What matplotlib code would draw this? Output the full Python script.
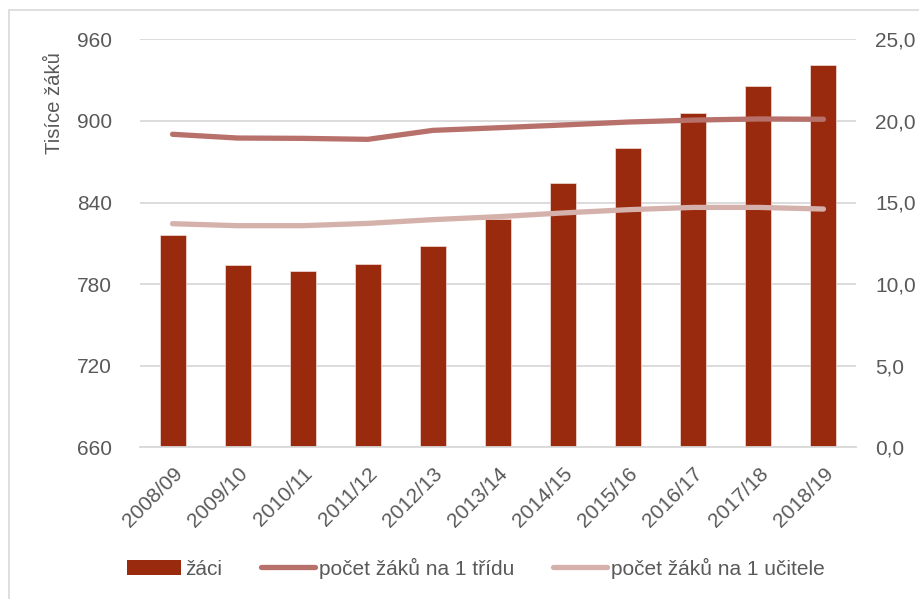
import matplotlib
matplotlib.use("Agg")
import matplotlib.pyplot as plt
from matplotlib.patches import Rectangle
from matplotlib.lines import Line2D
from matplotlib.patches import Patch

plt.rcParams['font.family'] = ['Liberation Sans', 'DejaVu Sans']

years = ["2008/09", "2009/10", "2010/11", "2011/12", "2012/13", "2013/14",
         "2014/15", "2015/16", "2016/17", "2017/18", "2018/19"]
zaci = [816, 794, 790, 795, 808, 828, 854, 880, 906, 926, 941]
na_tridu = [19.18, 18.95, 18.93, 18.87, 19.42, 19.58, 19.75, 19.93, 20.05, 20.12, 20.10]
na_ucitele = [13.70, 13.58, 13.58, 13.72, 13.95, 14.13, 14.36, 14.56, 14.70, 14.70, 14.60]
left_ticks = [660, 720, 780, 840, 900, 960]
right_ticks = [0, 5, 10, 15, 20, 25]
right_labels = ["0,0", "5,0", "10,0", "15,0", "20,0", "25,0"]

bar_c = "#9A2A0D"
l1_c = "#B8716A"
l2_c = "#D5B1AC"
txt_c = "#595959"
grid_c = "#D9D9D9"
FS = 15

W, H = 919, 599
fig = plt.figure(figsize=(W / 100, H / 100), dpi=100)
fig.patches.append(Rectangle((9 / W, -0.1), 1.2, 1 - 10 / H + 0.1, transform=fig.transFigure,
                             fill=False, edgecolor=grid_c, linewidth=1.2))

ax = fig.add_axes([140 / W, 1 - 447.3 / H, (856 - 140) / W, (447.3 - 39.3) / H])
x = list(range(len(years)))
ax.bar(x, zaci, width=0.4, color=bar_c, edgecolor="#F2E0DC", linewidth=0.5, zorder=2)
ax.set_ylim(660, 960)
ax.set_xlim(-0.5, len(years) - 0.5)
ax.set_yticks(left_ticks)
ax.set_yticklabels([str(v) for v in left_ticks])
ax.yaxis.grid(True, color=grid_c, linewidth=1.3, zorder=0)
ax.set_axisbelow(True)
for s in ["top", "left", "right"]:
    ax.spines[s].set_visible(False)
ax.spines["bottom"].set_color(grid_c)
ax.spines["bottom"].set_linewidth(1.3)
ax.tick_params(axis="both", length=0, labelsize=FS, colors=txt_c)
ax.tick_params(axis="y", pad=20)
ax.set_xticks(x)
ax.set_xticklabels(years, rotation=45, ha="right", va="top", rotation_mode="anchor")
ax.tick_params(axis="x", pad=12)

ax2 = ax.twinx()
ax2.plot(x, na_tridu, color=l1_c, linewidth=3.8, solid_capstyle="round", solid_joinstyle="round", zorder=3)
ax2.plot(x, na_ucitele, color=l2_c, linewidth=3.8, solid_capstyle="round", solid_joinstyle="round", zorder=3)
ax2.set_ylim(0, 25)
ax2.set_yticks(right_ticks)
ax2.set_yticklabels(right_labels)
ax2.tick_params(axis="y", length=0, labelsize=FS, colors=txt_c, pad=14)
for s in ["top", "left", "right", "bottom"]:
    ax2.spines[s].set_visible(False)

fig.text(55 / W, 1 - 103 / H, "Tisíce žáků", rotation=90, ha="center", va="center",
         fontsize=14.6, color=txt_c)

handles = [Patch(facecolor=bar_c, edgecolor="none"),
           Line2D([0], [0], color=l1_c, linewidth=3.8, solid_capstyle="round"),
           Line2D([0], [0], color=l2_c, linewidth=3.8, solid_capstyle="round")]
labels = ["žáci", "počet žáků na 1 třídu", "počet žáků na 1 učitele"]
leg = fig.legend(handles, labels, loc="center", bbox_to_anchor=(476 / W, 1 - 568 / H),
                 ncol=3, frameon=False, fontsize=FS, handlelength=2.6, handleheight=0.75,
                 handletextpad=0.2, columnspacing=1.85, labelcolor=txt_c)

fig.savefig("out.png", dpi=100)
